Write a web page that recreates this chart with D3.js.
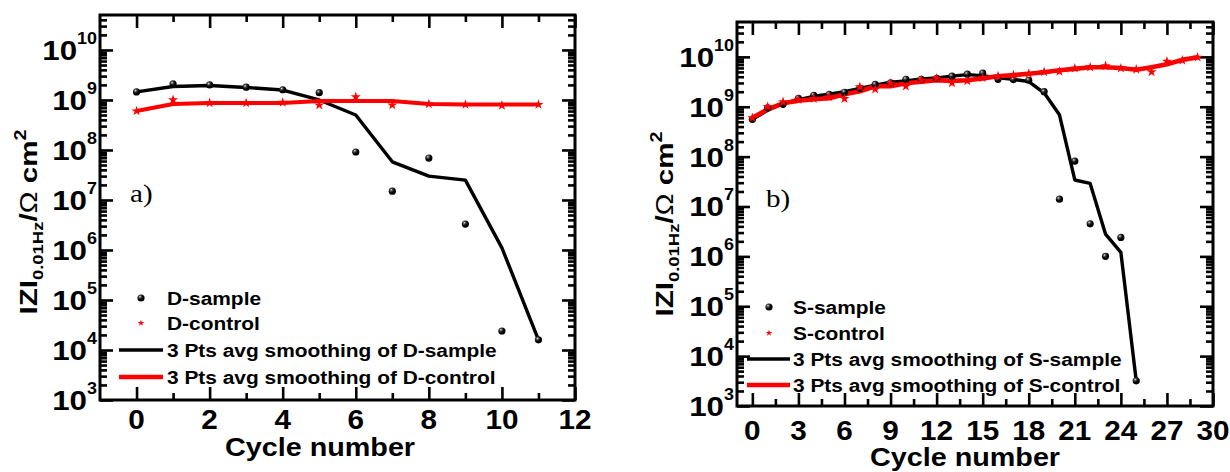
<!DOCTYPE html>
<html>
<head>
<meta charset="utf-8">
<script src="https://cdn.jsdelivr.net/npm/d3@7"></script>
<style>
  html, body { margin: 0; padding: 0; background: #fff; }
  svg { display: block; }
  text { font-family: "Liberation Sans", Arial, Helvetica, sans-serif; font-weight: bold; fill: #000; }
</style>
</head>
<body>
<svg id="chart" width="1230" height="472"></svg>
<script>
// ---- Panel a: D series (|Z| at 0.01 Hz, ohm cm^2) ----
const dCycles = [0, 1, 2, 3, 4, 5, 6, 7, 8, 9, 10, 11];
const dSample = [1.45e9, 2.1e9, 2.0e9, 1.8e9, 1.6e9, 1.4e9, 9.1e7, 1.5e7, 6.9e7, 3.3e6, 2.4e4, 1.6e4];
const dControl = [6.0e8, 1.0e9, 8.7e8, 8.7e8, 8.9e8, 7.9e8, 1.15e9, 7.9e8, 8.3e8, 8.1e8, 7.8e8, 8.1e8];
const dSampleSmooth = [1.45e9, 1.86e9, 1.95e9, 1.78e9, 1.58e9, 1.0e9, 5.0e8, 5.8e7, 3.0e7, 2.5e7, 1.1e6, 1.6e4];
const dControlSmooth = [6.0e8, 8.3e8, 8.7e8, 8.7e8, 8.7e8, 9.5e8, 9.5e8, 9.5e8, 8.3e8, 8.1e8, 8.1e8, 8.1e8];

// ---- Panel b: S series ----
const sSampleCycles = [0, 1, 2, 3, 4, 5, 6, 7, 8, 9, 10, 11, 12, 13, 14, 15, 16, 17, 18, 19, 20, 21, 22, 23, 24, 25];
const sControlCycles = [0, 1, 2, 3, 4, 5, 6, 7, 8, 9, 10, 11, 12, 13, 14, 15, 16, 17, 18, 19, 20, 21, 22, 23, 24, 25, 26, 27, 28, 29];
const sSample = [5.6e8, 9.5e8, 1.12e9, 1.48e9, 1.7e9, 1.78e9, 1.95e9, 2.34e9, 2.8e9, 3.0e9, 3.55e9, 3.55e9, 3.7e9,
                 4.1e9, 4.5e9, 4.7e9, 3.55e9, 3.5e9, 3.4e9, 2.0e9, 1.4e7, 8.1e7, 4.5e6, 1.0e6, 2.4e6, 3.2e3];
const sSampleSmooth = [5.6e8, 8.5e8, 1.17e9, 1.38e9, 1.62e9, 1.78e9, 2.0e9, 2.34e9, 2.7e9, 3.1e9, 3.3e9, 3.6e9, 3.8e9,
                       4.1e9, 4.4e9, 4.2e9, 3.8e9, 3.55e9, 3.2e9, 1.9e9, 6.9e8, 3.4e7, 2.9e7, 2.8e6, 1.2e6, 3.2e3];
const sControl = [6.0e8, 1.0e9, 1.25e9, 1.38e9, 1.45e9, 1.58e9, 1.45e9, 2.5e9, 2.24e9, 2.95e9, 2.57e9, 3.4e9, 3.7e9, 3.0e9, 3.3e9,
                  3.8e9, 4.1e9, 4.3e9, 4.6e9, 5.0e9, 5.1e9, 5.9e9, 6.2e9, 6.6e9, 5.9e9, 5.6e9, 5.0e9, 8.1e9, 8.5e9, 9.8e9];
const sControlSmooth = [6.0e8, 8.9e8, 1.17e9, 1.32e9, 1.41e9, 1.48e9, 1.78e9, 2.04e9, 2.57e9, 2.57e9, 2.95e9, 3.16e9, 3.4e9, 3.3e9, 3.4e9,
                        3.7e9, 4.1e9, 4.3e9, 4.6e9, 4.9e9, 5.4e9, 5.75e9, 6.2e9, 6.2e9, 6.0e9, 5.5e9, 6.2e9, 7.1e9, 8.7e9, 9.8e9];

// ---- Tick labels ----
const yExponents = [3, 4, 5, 6, 7, 8, 9, 10];
const dXTicks = [0, 2, 4, 6, 8, 10, 12];
const dXMinor = [1, 3, 5, 7, 9, 11];
const sXTicks = [0, 3, 6, 9, 12, 15, 18, 21, 24, 27, 30];
const sXMinor = [1.5, 4.5, 7.5, 10.5, 13.5, 16.5, 19.5, 22.5, 25.5, 28.5];

const RED = "#ff0000";
const svg = d3.select("#chart");

// shaded ball used for the sample markers
const defs = svg.append("defs");
const grad = defs.append("radialGradient").attr("id", "ball")
  .attr("cx", 0.36).attr("cy", 0.32).attr("r", 0.6);
grad.append("stop").attr("offset", 0).attr("stop-color", "#e6e6e6");
grad.append("stop").attr("offset", 0.3).attr("stop-color", "#4a4a4a");
grad.append("stop").attr("offset", 0.7).attr("stop-color", "#000");

// text that is a little wider than the plain font
function wideText(parent, x, y, size, sx) {
  return parent.append("text")
    .attr("transform", `translate(${x},${y}) scale(${sx},1)`)
    .style("font-size", size + "px");
}

function drawPanel(p) {
  const g = svg.append("g");
  const x = d3.scaleLinear().domain(p.xDomain).range([p.left, p.right]);
  const y = d3.scaleLog().domain([1e3, 5e10]).range([p.bottom, p.top]);

  const yMajor = yExponents.map(e => Math.pow(10, e));
  const yMinor = [];
  yExponents.forEach(e => {
    for (let k = 2; k <= 9; k++) {
      const v = k * Math.pow(10, e);
      if (v < 5e10) yMinor.push(v);
    }
  });

  const tickStyle = sel => {
    sel.select(".domain").remove();
    sel.selectAll(".tick line").attr("stroke", "#000").attr("stroke-width", 2.6);
    sel.selectAll(".tick text").remove();
  };

  // inward ticks on all four sides
  const addY = (vals, len) => {
    g.append("g").attr("transform", `translate(${p.left},0)`)
      .call(d3.axisRight(y).tickValues(vals).tickSize(len).tickFormat("")).call(tickStyle);
    g.append("g").attr("transform", `translate(${p.right},0)`)
      .call(d3.axisLeft(y).tickValues(vals).tickSize(len).tickFormat("")).call(tickStyle);
  };
  addY(yMinor, 7);
  addY(yMajor, 13);

  const addX = (vals, len) => {
    g.append("g").attr("transform", `translate(0,${p.bottom})`)
      .call(d3.axisTop(x).tickValues(vals).tickSize(len).tickFormat("")).call(tickStyle);
    g.append("g").attr("transform", `translate(0,${p.top})`)
      .call(d3.axisBottom(x).tickValues(vals).tickSize(len).tickFormat("")).call(tickStyle);
  };
  addX(p.xMinor, 7);
  addX(p.xTicks, 13);

  // frame
  g.append("rect")
    .attr("x", p.left).attr("y", p.top)
    .attr("width", p.right - p.left).attr("height", p.bottom - p.top)
    .attr("fill", "none").attr("stroke", "#000").attr("stroke-width", 3);

  // y tick labels: 10^n
  yMajor.forEach(v => {
    const t = wideText(g, p.left - 3, y(v) + 10, 28, 1.12).attr("text-anchor", "end");
    t.append("tspan").text("10");
    t.append("tspan").style("font-size", "16px").attr("dy", -16).text(Math.round(Math.log10(v)));
  });

  // x tick labels
  p.xTicks.forEach(v => {
    wideText(g, x(v), p.bottom + p.xLabelGap, 27, 1.1).attr("text-anchor", "middle").text(v);
  });

  // axis titles
  wideText(g, p.xTitleX, p.xTitleY, 25, 1.15).attr("text-anchor", "middle").text("Cycle number");

  const yt = g.append("text")
    .attr("transform", `translate(${p.yTitleX},${p.yTitleY}) rotate(-90)`)
    .attr("text-anchor", "middle")
    .attr("textLength", 185).attr("lengthAdjust", "spacingAndGlyphs")
    .style("font-size", "24px");
  yt.append("tspan").text("IZI");
  yt.append("tspan").style("font-size", "15px").attr("dy", 6).text("0.01Hz");
  yt.append("tspan").attr("dy", -6).text("/");
  yt.append("tspan").style("font-weight", "normal").text("Ω");
  yt.append("tspan").text(" cm");
  yt.append("tspan").style("font-size", "16px").attr("dy", -11).text("2");

  // panel letter
  wideText(g, p.letterX, p.letterY, 26, 1.12)
    .style("font-family", "'Liberation Serif', 'Times New Roman', serif")
    .style("font-weight", "normal").text(p.letter);

  // smoothing lines
  const line = d3.line().x(d => x(d[0])).y(d => y(d[1]));
  g.append("path").datum(d3.zip(p.sampleCycles, p.sampleSmooth))
    .attr("d", line).attr("fill", "none").attr("stroke", "#000")
    .attr("stroke-width", 3.4).attr("stroke-linejoin", "round");
  g.append("path").datum(d3.zip(p.controlCycles, p.controlSmooth))
    .attr("d", line).attr("fill", "none").attr("stroke", RED)
    .attr("stroke-width", p.redWidth).attr("stroke-linejoin", "round");

  // measured points
  g.append("g").selectAll("circle").data(d3.zip(p.sampleCycles, p.sample)).join("circle")
    .attr("cx", d => x(d[0])).attr("cy", d => y(d[1])).attr("r", 3.6)
    .attr("fill", "url(#ball)");
  const star = d3.symbol(d3.symbolStar, 32);
  g.append("g").selectAll("path").data(d3.zip(p.controlCycles, p.control)).join("path")
    .attr("d", star)
    .attr("transform", d => `translate(${x(d[0])},${y(d[1])})`)
    .attr("fill", RED);

  // legend
  const L = p.legend;
  const lg = g.append("g");
  lg.append("circle").attr("cx", L.symX).attr("cy", L.rows[0]).attr("r", 3.6).attr("fill", "url(#ball)");
  lg.append("path").attr("d", d3.symbol(d3.symbolStar, 14))
    .attr("transform", `translate(${L.symX},${L.rows[1]})`).attr("fill", RED);
  lg.append("line").attr("x1", L.lineX1).attr("x2", L.lineX2).attr("y1", L.rows[2]).attr("y2", L.rows[2])
    .attr("stroke", "#000").attr("stroke-width", 3.6);
  lg.append("line").attr("x1", L.lineX1).attr("x2", L.lineX2).attr("y1", L.rows[3]).attr("y2", L.rows[3])
    .attr("stroke", RED).attr("stroke-width", 4.4);
  p.legendLabels.forEach((label, i) => {
    wideText(lg, L.textX, L.rows[i] + 7, 19, 1.1).text(label);
  });
}

drawPanel({
  left: 100, right: 575, top: 15, bottom: 400,
  xDomain: [-1, 12], xTicks: dXTicks, xMinor: dXMinor, xLabelGap: 29,
  xTitleX: 320, xTitleY: 456,
  yTitleX: 37, yTitleY: 222,
  letter: "a)", letterX: 130, letterY: 202,
  sampleCycles: dCycles, sample: dSample, sampleSmooth: dSampleSmooth,
  controlCycles: dCycles, control: dControl, controlSmooth: dControlSmooth,
  redWidth: 4,
  legend: { symX: 141, textX: 167, lineX1: 119, lineX2: 163, rows: [298, 323, 350, 377] },
  legendLabels: ["D-sample", "D-control", "3 Pts avg smoothing of D-sample", "3 Pts avg smoothing of D-control"]
});

drawPanel({
  left: 737, right: 1213, top: 22, bottom: 406,
  xDomain: [-1, 30], xTicks: sXTicks, xMinor: sXMinor, xLabelGap: 34,
  xTitleX: 965, xTitleY: 466,
  yTitleX: 673, yTitleY: 224,
  letter: "b)", letterX: 766, letterY: 207,
  sampleCycles: sSampleCycles, sample: sSample, sampleSmooth: sSampleSmooth,
  controlCycles: sControlCycles, control: sControl, controlSmooth: sControlSmooth,
  redWidth: 4.6,
  legend: { symX: 769, textX: 793, lineX1: 747, lineX2: 790, rows: [307, 333, 359, 385] },
  legendLabels: ["S-sample", "S-control", "3 Pts avg smoothing of S-sample", "3 Pts avg smoothing of S-control"]
});
</script>
</body>
</html>
